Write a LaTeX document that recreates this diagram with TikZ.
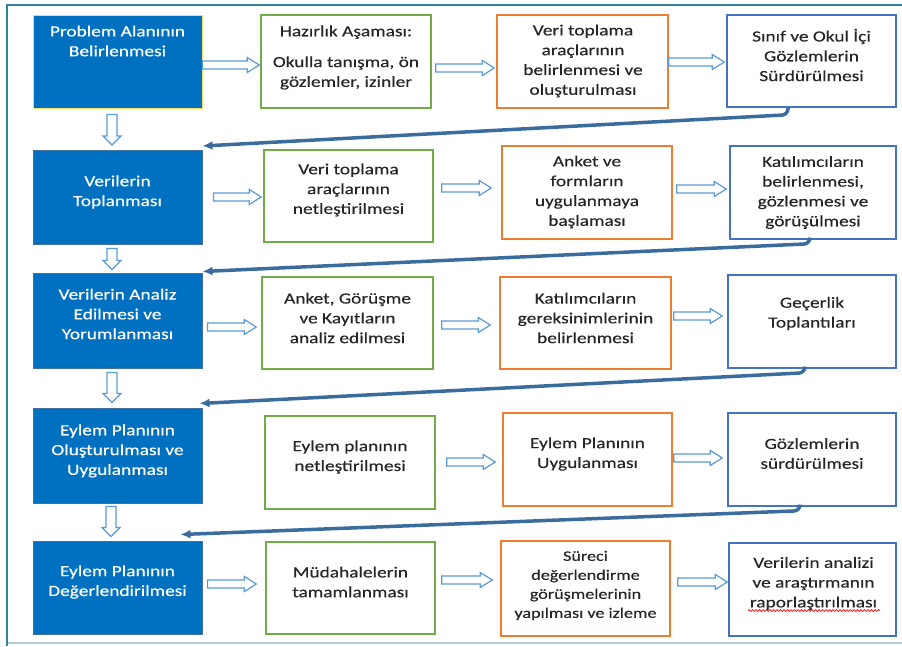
\documentclass[tikz,border=0pt]{standalone}
\usepackage{fontspec}
\setmainfont{Carlito}[FakeStretch=1.25,FakeBold=0.4]
\usetikzlibrary{calc,arrows.meta,decorations.pathmorphing}
\definecolor{fillblue}{HTML}{0070C0}
\definecolor{edgeblue}{HTML}{41719C}
\definecolor{yel}{HTML}{FFD966}
\definecolor{grn}{HTML}{70AD47}
\definecolor{org}{HTML}{ED7D31}
\definecolor{obl}{HTML}{4472C4}
\definecolor{arrc}{HTML}{5B9BD5}
\definecolor{retc}{HTML}{3B6C9E}
\definecolor{framet}{HTML}{31849B}
\definecolor{frameb}{HTML}{B4CCD6}
\definecolor{txtc}{HTML}{262626}
\begin{document}
\begin{tikzpicture}[x=1pt,y=-1pt,
  box/.style={rectangle, inner sep=0pt, line width=1.5pt, minimum width=169pt, minimum height=93pt},
  fbox/.style={box, fill=fillblue, draw=edgeblue, line width=1pt},
  gbox/.style={box, draw=grn},
  obox/.style={box, draw=org},
  bbox/.style={box, draw=obl},
  tx/.style={align=center, text=txtc, font=\fontsize{15.5}{19.8}\selectfont, inner sep=0pt},
  wtx/.style={tx, text=white},
  harr/.style={draw=arrc, fill=white, line width=1.2pt, line join=miter,
    to path={let \p1=(\tikztostart), \p2=(\tikztotarget) in
      (\x1,\y1+4pt) -- (\x2-12pt,\y1+4pt) -- (\x2-12pt,\y1+7.5pt) -- (\x2,\y1)
      -- (\x2-12pt,\y1-7.5pt) -- (\x2-12pt,\y1-4pt) -- (\x1,\y1-4pt) -- cycle}},
  darr/.style={draw=arrc, fill=white, line width=1.2pt, line join=miter,
    to path={let \p1=(\tikztostart), \p2=(\tikztotarget) in
      (\x1+5pt,\y1) -- (\x1+5pt,\y2+9pt) -- (\x1+9pt,\y2+9pt) -- (\x1,\y2)
      -- (\x1-9pt,\y2+9pt) -- (\x1-5pt,\y2+9pt) -- (\x1-5pt,\y1) -- cycle}},
  ret/.style={draw=retc, line width=3.5pt, rounded corners=6pt, -{Latex[length=10pt,width=9pt]}},
]
\useasboundingbox (0,0) rectangle (902,646);
% frame
\draw[framet, line width=2.2pt] (7,646) -- (7,5) -- (902,5);
\draw[frameb, line width=2pt] (8,643) -- (902,643);

% row 1
\node[fbox, draw=yel] (b1) at (117.5,61.5) {};
\node[gbox, minimum width=170pt] (g1) at (346,61.5) {};
\node[obox, minimum width=171pt] (o1) at (582.5,61.5) {};
\node[bbox, minimum height=92pt] (bo1) at (811.5,61) {};
% row 2
\node[fbox, minimum height=94pt] (b2) at (117.5,197.5) {};
\node[gbox, minimum height=92pt] (g2) at (348.5,196) {};
\node[obox, minimum width=170pt] (o2) at (587,192.5) {};
\node[bbox, minimum width=166pt] (bo2) at (813,192.5) {};
% row 3
\node[fbox, minimum height=95pt] (b3) at (117.5,320.5) {};
\node[gbox, minimum width=171pt, minimum height=92pt] (g3) at (347.5,323) {};
\node[obox, minimum width=171pt, minimum height=92pt] (o3) at (585.5,323) {};
\node[bbox, minimum width=168pt] (bo3) at (812,321.5) {};
% row 4
\node[fbox, minimum height=95pt] (b4) at (117.5,455.5) {};
\node[gbox, minimum width=170pt] (g4) at (350,462.5) {};
\node[obox] (o4) at (587.5,459.5) {};
\node[bbox, minimum width=168pt] (bo4) at (812,459.5) {};
% row 5
\node[fbox] (b5) at (117.5,587.5) {};
\node[gbox, minimum height=92pt] (g5) at (350.5,588) {};
\node[obox, minimum height=95pt] (o5) at (585.5,588.5) {};
\node[bbox, minimum width=167pt, minimum height=93pt] (bo5) at (812.5,589.5) {};

% texts
\node[wtx] (tb1) at (117.5,41) {Problem Alanının\\Belirlenmesi};
\node[tx] (tg1) at (346,57.5) {Hazırlık Aşaması:\\[11pt]Okulla tanışma, ön\\gözlemler, izinler};
\node[tx] (to1) at (583,61) {Veri toplama\\araçlarının\\belirlenmesi ve\\oluşturulması};
\node[tx] (tbo1) at (811.5,55) {Sınıf ve Okul İçi\\Gözlemlerin\\Sürdürülmesi};

\node[wtx] (tb2) at (117.5,192) {Verilerin\\Toplanması};
\node[tx] (tg2) at (348.5,190) {Veri toplama\\araçlarının\\netleştirilmesi};
\node[tx] (to2) at (587,192) {Anket ve\\formların\\uygulanmaya\\başlaması};
\node[tx] (tbo2) at (813,192.5) {Katılımcıların\\belirlenmesi,\\gözlenmesi ve\\görüşülmesi};

\node[wtx] (tb3) at (117.5,314) {Verilerin Analiz\\Edilmesi ve\\Yorumlanması};
\node[tx] (tg3) at (347.5,318) {Anket, Görüşme\\ve Kayıtların\\analiz edilmesi};
\node[tx] (to3) at (585.5,318) {Katılımcıların\\gereksinimlerinin\\belirlenmesi};
\node[tx] (tbo3) at (812,313.5) {Geçerlik\\Toplantıları};

\node[wtx] (tb4) at (117.5,451) {Eylem Planının\\Oluşturulması ve\\Uygulanması};
\node[tx] (tg4) at (350,457) {Eylem planının\\netleştirilmesi};
\node[tx] (to4) at (587.5,454) {Eylem Planının\\Uygulanması};
\node[tx] (tbo4) at (812,453.5) {Gözlemlerin\\sürdürülmesi};

\node[wtx] (tb5) at (117.5,582) {Eylem Planının\\Değerlendirilmesi};
\node[tx] (tg5) at (350.5,582) {Müdahalelerin\\tamamlanması};
\node[tx, font=\fontsize{14.5}{19}\selectfont] (to5) at (585.5,585.5) {Süreci\\değerlendirme\\görüşmelerinin\\yapılması ve izleme};
\node[tx] (tbo5) at (813.5,583.5) {Verilerin analizi\\ve araştırmanın\\raporlaştırılması};
\draw[red, line width=0.7pt, decorate, decoration={snake, amplitude=0.9pt, segment length=3.5pt}]
  ($(bo5.center)+(-64.5,21)$) -- ($(bo5.center)+(67.5,21)$);

% horizontal hollow arrows
\draw[harr] ($(b1.east)+(0,3.5)$) to ($(g1.west)+(-1,3.5)$);
\draw[harr] ($(g1.east)+(4,6.5)$) to ($(o1.west)+(-2,6.5)$);
\draw[harr] ($(o1.east)+(0,0.5)$) to ($(bo1.west)+(-2,0.5)$);

\draw[harr] ($(b2.east)+(11,-0.5)$) to ($(g2.west)+(-2,-0.5)$);
\draw[harr] ($(g2.east)+(8,-8)$) to ($(o2.west)+(-10,-8)$);
\draw[harr] ($(o2.east)+(4,-3.5)$) to ($(bo2.west)+(-3,-3.5)$);

\draw[harr] ($(b3.east)+(5,6.5)$) to ($(g3.west)+(-5,6.5)$);
\draw[harr] ($(g3.east)+(8,2)$) to ($(o3.west)+(-9,2)$);
\draw[harr] ($(o3.east)+(2,-7)$) to ($(bo3.west)+(-5,-7)$);

\draw[harr] ($(g4.east)+(11,-0.5)$) to ($(o4.west)+(-7,-0.5)$);
\draw[harr] ($(o4.east)+(1,-1.5)$) to ($(bo4.west)+(-5,-1.5)$);

\draw[harr] ($(b5.east)+(5,-3.5)$) to ($(g5.west)+(-9,-3.5)$);
\draw[harr] ($(g5.east)+(6,-8)$) to ($(o5.west)+(-8,-8)$);
\draw[harr] ($(o5.east)+(7,-6.5)$) to ($(bo5.west)+(-1,-6.5)$);

% down hollow arrows
\draw[darr] ($(b1.south)+(-5.5,6)$) to ($(b2.north)+(-5.5,-5)$);
\draw[darr] ($(b2.south)+(-5.5,3.5)$) to ($(b3.north)+(-5.5,-3)$);
\draw[darr] ($(b3.south)+(-5.5,4)$) to ($(b4.north)+(-5.5,-5)$);
\draw[darr] ($(b4.south)+(-6.5,3)$) to ($(b5.north)+(-6.5,-4)$);

% return arrows
\draw[ret] ($(bo1.south)+(-23.5,0)$) -- ++(0,7) -- ($(b2.north east)+(0,-4)$);
\draw[ret] ($(bo2.south)+(-3,0)$) -- ++(0,4) -- ($(b3.north east)+(0,-1)$);
\draw[ret] ($(bo3.south)+(-7,0)$) -- ++(0,4) -- ($(b4.north east)+(-3,-4)$);
\draw[ret] ($(bo4.south)+(-12,0)$) -- ++(0,4) -- ($(b5.north east)+(-22,-6)$);
\end{tikzpicture}
\end{document}
